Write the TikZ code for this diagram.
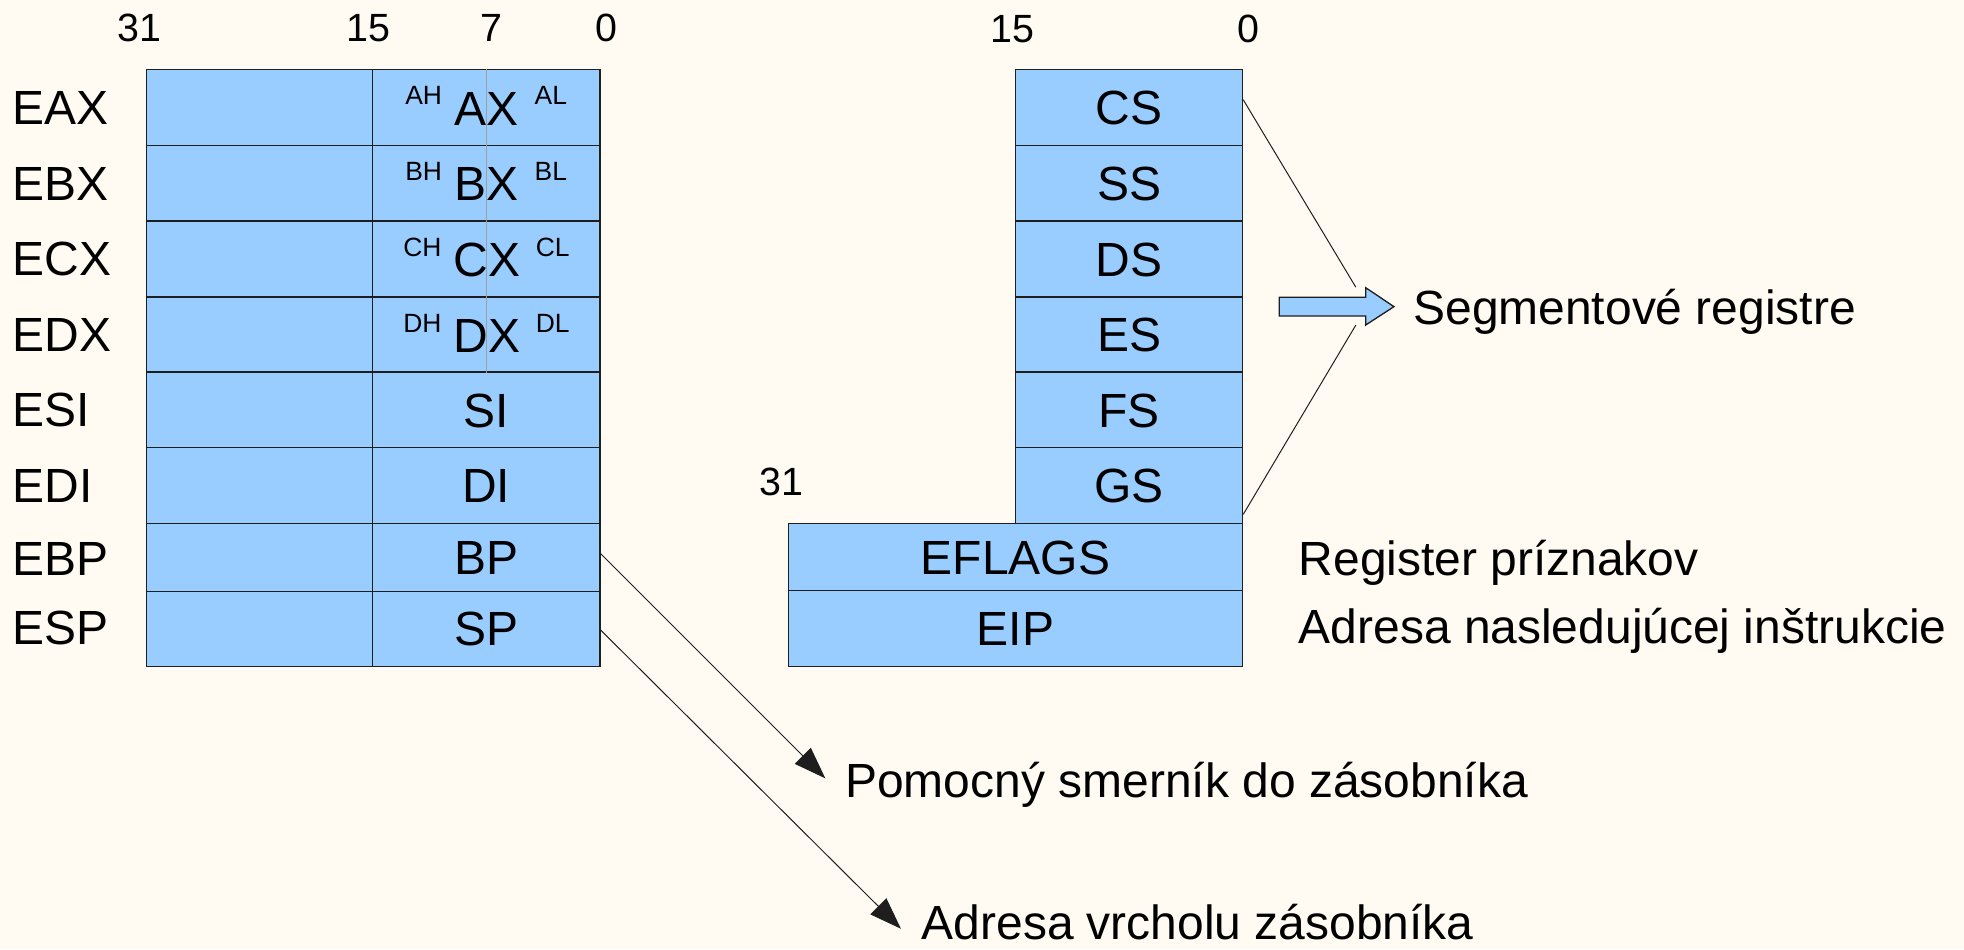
\documentclass[tikz,border=0pt]{standalone}
\usepackage{fontspec}
\setmainfont{Liberation Sans}
\usetikzlibrary{arrows.meta,calc}
\definecolor{bgc}{HTML}{FFFBF3}
\definecolor{cellblue}{HTML}{99CCFF}
\definecolor{edgec}{HTML}{1E1E1E}
\newcommand\rlabelfont{\fontsize{21.8}{26}\selectfont}
\newcommand\rbitfont{\fontsize{17.9}{21}\selectfont}
\newcommand\rsubfont{\fontsize{12}{14}\selectfont}
\begin{document}
\begin{tikzpicture}[x=0.02cm,y=-0.02cm,
  cell/.style={draw=edgec, line width=0.6pt, fill=cellblue, inner sep=0pt, font=\rlabelfont, text height=15.6pt, text depth=0pt},
  rc/.style 2 args={minimum width={#1*0.02cm}, minimum height={#2*0.02cm}},
  txt/.style={inner sep=0pt, font=\rlabelfont, text height=15.6pt, text depth=0pt},
  bitlbl/.style={inner sep=0pt, font=\rbitfont, text height=12.8pt, text depth=0pt},
  sublbl/.style={inner sep=0pt, font=\rsubfont, text height=8.6pt, text depth=0pt},
  ptr/.style={draw=edgec, line width=0.45pt, -{Triangle[length=0.51cm,width=0.36cm]}},
  segline/.style={draw=edgec, line width=0.45pt},
  midline/.style={draw=gray!75, line width=0.6pt},
  barrow/.style={draw=edgec, line width=0.6pt, fill=cellblue}]
\fill[bgc] (0,0) rectangle (1568,758);
\useasboundingbox (0,0) rectangle (1568,758);

% bit numbers
\node[bitlbl] (b31) at (111,22) {31};
\node[bitlbl] (b15) at (294,22) {15};
\node[bitlbl] (b7) at (392,22) {7};
\node[bitlbl] (b0) at (484,22) {0};
\node[bitlbl] (s15) at (808,22.5) {15};
\node[bitlbl] (s0) at (997,22.5) {0};
\node[bitlbl] (f31) at (624,384) {31};

% general purpose registers
\node[cell, rc={180.5}{60.5}] (eaxhi) at (207.25,85.75) {};
\node[cell, rc={181.5}{60.5}] (ax) at (388.25,85.75) {};
\node[cell, rc={180.5}{60.5}] (ebxhi) at (207.25,146.25) {};
\node[cell, rc={181.5}{60.5}] (bx) at (388.25,146.25) {};
\node[cell, rc={180.5}{60.5}] (ecxhi) at (207.25,206.75) {};
\node[cell, rc={181.5}{60.5}] (cx) at (388.25,206.75) {};
\node[cell, rc={180.5}{60}] (edxhi) at (207.25,267) {};
\node[cell, rc={181.5}{60}] (dx) at (388.25,267) {};
\node[cell, rc={180.5}{60.5}] (esihi) at (207.25,327.25) {};
\node[cell, rc={181.5}{60.5}] (si) at (388.25,327.25) {SI};
\node[cell, rc={180.5}{60.5}] (edihi) at (207.25,387.75) {};
\node[cell, rc={181.5}{60.5}] (di) at (388.25,387.75) {DI};
\node[cell, rc={180.5}{54}] (ebphi) at (207.25,445) {};
\node[cell, rc={181.5}{54}] (bp) at (388.25,445) {BP};
\node[cell, rc={180.5}{60}] (esphi) at (207.25,502) {};
\node[cell, rc={181.5}{60}] (sp) at (388.25,502) {SP};

\draw[midline] (ax.north) -- (dx.south);

\node[txt] (axl) at ($(ax.center)+(0.5,0.5)$) {AX};
\node[sublbl] (ah) at ($(ax.center)+(-50,-9.5)$) {AH};
\node[sublbl] (al) at ($(ax.center)+(51.5,-9.5)$) {AL};
\node[txt] (bxl) at ($(bx.center)+(0.5,0.5)$) {BX};
\node[sublbl] (bh) at ($(bx.center)+(-50,-9.5)$) {BH};
\node[sublbl] (bl) at ($(bx.center)+(51.5,-9.5)$) {BL};
\node[txt] (cxl) at ($(cx.center)+(0.5,0.5)$) {CX};
\node[sublbl] (ch) at ($(cx.center)+(-51,-9.5)$) {CH};
\node[sublbl] (cl) at ($(cx.center)+(53,-9.5)$) {CL};
\node[txt] (dxl) at ($(dx.center)+(0.5,0.5)$) {DX};
\node[sublbl] (dh) at ($(dx.center)+(-51,-9.5)$) {DH};
\node[sublbl] (dl) at ($(dx.center)+(53,-9.5)$) {DL};

% register names
\node[txt, anchor=west] (neax) at (9.6,85.5) {EAX};
\node[txt, anchor=west] (nebx) at (9.6,146) {EBX};
\node[txt, anchor=west] (necx) at (9.6,206.5) {ECX};
\node[txt, anchor=west] (nedx) at (9.6,267) {EDX};
\node[txt, anchor=west] (nesi) at (9.6,327) {ESI};
\node[txt, anchor=west] (nedi) at (9.6,387.5) {EDI};
\node[txt, anchor=west] (nebp) at (9.6,446) {EBP};
\node[txt, anchor=west] (nesp) at (9.6,501) {ESP};

% segment registers
\node[cell, rc={181}{60.5}] (cs) at (901.5,85.75) {CS};
\node[cell, rc={181}{60.5}] (ss) at (901.5,146.25) {SS};
\node[cell, rc={181}{60.5}] (ds) at (901.5,206.75) {DS};
\node[cell, rc={181}{60}] (es) at (901.5,267) {ES};
\node[cell, rc={181}{60.5}] (fs) at (901.5,327.25) {FS};
\node[cell, rc={181}{60.5}] (gs) at (901.5,387.75) {GS};
\node[cell, rc={362.5}{53.5}] (eflags) at (810.75,444.75) {EFLAGS};
\node[cell, rc={362.5}{60.5}] (eip) at (810.75,501.75) {EIP};

% block arrow
\draw[barrow] (1021.3,237.3) -- (1090.3,237.3) -- (1090.3,229.7) -- (1112.9,244.8)
  -- (1090.3,259.5) -- (1090.3,252.3) -- (1021.3,252.3) -- cycle;

\coordinate (segtop) at ($(cs.north east)!0.4!(cs.south east)$);
\coordinate (segbot) at ($(gs.north east)!0.873!(gs.south east)$);
\coordinate (segA) at (1082.4,229.2);
\coordinate (segB) at (1082.4,259.6);
\draw[segline] (segtop) -- (segA);
\draw[segline] (segbot) -- (segB);

% right texts
\node[txt, anchor=west] (tseg) at (1128,245.5) {Segmentové registre};
\node[txt, anchor=west] (tflag) at (1036.5,446) {Register príznakov};
\node[txt, anchor=west] (tip) at (1036.5,500) {Adresa nasledujúcej inštrukcie};
\node[txt, anchor=west] (tpom) at (674.5,623) {Pomocný smerník do zásobníka};
\node[txt, anchor=west] (tvrch) at (735.5,736.5) {Adresa vrcholu zásobníka};

% pointer arrows
\coordinate (bptip) at (658.9,621.4);
\coordinate (sptip) at (719.3,741.5);
\draw[ptr] ($(bp.east)+(0,-3)$) -- (bptip);
\draw[ptr] ($(sp.east)+(0,1)$) -- (sptip);
\end{tikzpicture}
\end{document}
